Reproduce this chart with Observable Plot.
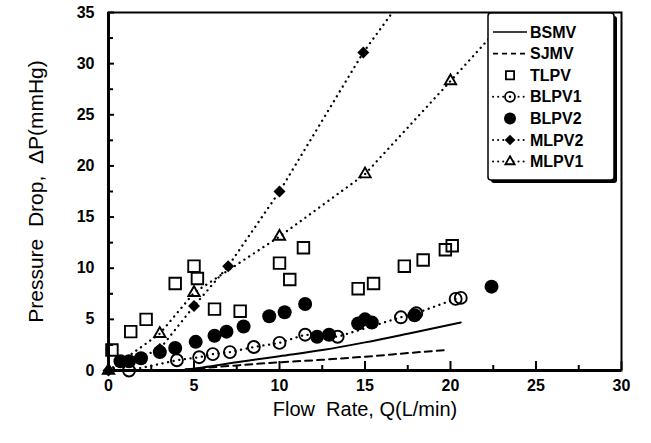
<!DOCTYPE html>
<html><head><meta charset="utf-8">
<script src="https://cdn.jsdelivr.net/npm/d3@7"></script>
<script src="https://cdn.jsdelivr.net/npm/@observablehq/plot@0.6"></script>
<style>
body{margin:0;background:#fff;}
#chart svg{font-family:"Liberation Sans",Arial,sans-serif;}
</style></head><body><div id="chart"></div>
<script>
// ---- axis ticks ----
const xTicks = [0, 5, 10, 15, 20, 25, 30];
const yTicks = [0, 5, 10, 15, 20, 25, 30, 35];
const xMinor = [2.5, 7.5, 12.5, 17.5, 22.5, 27.5];
const yMinor = [2.5, 7.5, 12.5, 17.5, 22.5, 27.5, 32.5];
const xTitle = "Flow\u00a0 Rate, Q(L/min)";
const yTitle = "Pressure\u00a0 Drop,\u00a0 \u0394P(mmHg)";
const seriesNames = ["BSMV", "SJMV", "TLPV", "BLPV1", "BLPV2", "MLPV2", "MLPV1"];

// ---- BSMV (solid curve) ----
const bsmvQ = [4.5, 5.5, 7.5, 10, 12.5, 15, 17.5, 20.6];
const bsmvP = [0.1, 0.3, 0.8, 1.4, 2.0, 2.75, 3.6, 4.7];
// ---- SJMV (dashed curve) ----
const sjmvQ = [4.5, 7.5, 10, 12.5, 15, 17.5, 19.7];
const sjmvP = [0.1, 0.5, 0.8, 1.05, 1.35, 1.7, 2.0];
// ---- TLPV (open squares) ----
const tlpvQ = [0.2, 1.3, 2.2, 3.9, 5.0, 5.2, 6.2, 7.7, 10.0, 10.6, 11.4, 14.6, 15.5, 17.3, 18.4, 19.7, 20.1];
const tlpvP = [2.0, 3.8, 5.0, 8.5, 10.2, 9.0, 6.0, 5.8, 10.5, 8.9, 12.0, 8.0, 8.5, 10.2, 10.8, 11.8, 12.2];
// ---- BLPV1 (open circles, dotted) ----
const blpv1Q = [1.2, 4.0, 5.3, 6.1, 7.1, 8.5, 10.0, 11.5, 13.4, 17.1, 18.0, 20.3, 20.6];
const blpv1P = [0.0, 1.0, 1.3, 1.6, 1.8, 2.3, 2.7, 3.5, 3.3, 5.2, 5.6, 7.0, 7.1];
// ---- BLPV2 (filled circles) ----
const blpv2Q = [0.7, 1.2, 1.9, 3.0, 3.9, 5.1, 6.2, 6.9, 7.9, 9.4, 10.3, 11.5, 12.2, 12.9, 14.6, 15.0, 15.4, 17.9, 22.4];
const blpv2P = [0.9, 0.9, 1.2, 1.8, 2.2, 2.8, 3.4, 3.8, 4.3, 5.3, 5.7, 6.5, 3.3, 3.5, 4.6, 5.0, 4.7, 5.4, 8.2];
// ---- MLPV2 (filled diamonds, dotted) ----
const mlpv2Q = [0, 3.0, 5.0, 7.0, 10.0, 14.9];
const mlpv2P = [0, 2.1, 6.3, 10.2, 17.5, 31.1];
const mlpv2LineQ = [0, 3.0, 5.0, 7.0, 10.0, 14.9, 20.0];
const mlpv2LineP = [0, 2.1, 6.3, 10.2, 17.5, 31.1, 42.8];
// ---- MLPV1 (open triangles, dotted) ----
const mlpv1Q = [0, 3.0, 5.0, 10.0, 15.0, 20.0];
const mlpv1P = [0, 3.6, 7.6, 13.1, 19.2, 28.3];
const mlpv1LineQ = [0, 3.0, 5.0, 10.0, 15.0, 20.0, 25.0];
const mlpv1LineP = [0, 3.6, 7.6, 13.1, 19.2, 28.3, 37.5];

const rows = (Q, P) => Q.map((q, i) => ({q, p: P[i]}));

const W = 651, H = 443, mL = 108, mR = 30, mT = 12, mB = 73;
const fw = W - mL - mR, fh = H - mT - mB;
const FONT = "'Liberation Sans', Arial, sans-serif";
const dotted = {strokeDasharray: "0.1,5.6", strokeLinecap: "round", strokeWidth: 2.3};

const plot = Plot.plot({
  width: W, height: H,
  marginLeft: mL, marginRight: mR, marginTop: mT, marginBottom: mB,
  x: {domain: [0, 30]},
  y: {domain: [0, 35]},
  style: {fontFamily: FONT, background: "white", color: "black", overflow: "visible"},
  marks: [
    Plot.frame({strokeWidth: 2}),
    Plot.line(rows(bsmvQ, bsmvP), {x: "q", y: "p", curve: "monotone-x", strokeWidth: 2}),
    Plot.line(rows(sjmvQ, sjmvP), {x: "q", y: "p", curve: "monotone-x", strokeWidth: 2, strokeDasharray: "7,5"}),
    Plot.line(rows(blpv1Q, blpv1P), {x: "q", y: "p", ...dotted}),
    Plot.line(rows(mlpv2LineQ, mlpv2LineP), {x: "q", y: "p", ...dotted, clip: true}),
    Plot.line(rows(mlpv1LineQ, mlpv1LineP), {x: "q", y: "p", ...dotted, clip: true}),
    Plot.dot(rows(tlpvQ, tlpvP), {x: "q", y: "p", symbol: "square", r: 6.5, fill: "none", stroke: "black", strokeWidth: 1.9}),
    Plot.dot(rows(blpv1Q, blpv1P), {x: "q", y: "p", symbol: "circle", r: 6, fill: "none", stroke: "black", strokeWidth: 1.9}),
    Plot.dot(rows(blpv2Q, blpv2P), {x: "q", y: "p", symbol: "circle", r: 7, fill: "black", stroke: "none"}),
    Plot.dot(rows(mlpv2Q, mlpv2P), {x: "q", y: "p", symbol: "diamond2", r: 5.4, fill: "black", stroke: "none"}),
    Plot.dot(rows(mlpv1Q, mlpv1P), {x: "q", y: "p", symbol: "triangle", r: 4.2, fill: "none", stroke: "black", strokeWidth: 1.9}),
    Plot.ruleX([0], {strokeWidth: 3}),
    Plot.ruleY([0], {strokeWidth: 3}),
    Plot.tickX(xTicks, {x: d => d, insetTop: fh - 9, strokeWidth: 2}),
    Plot.tickX(xMinor, {x: d => d, insetTop: fh - 5, strokeWidth: 2}),
    Plot.tickY(yTicks, {y: d => d, insetRight: fw - 6, strokeWidth: 2}),
    Plot.tickY(yMinor, {y: d => d, insetRight: fw - 5, strokeWidth: 2}),
    Plot.axisX({ticks: xTicks, tickSize: 0, tickPadding: 9, fontSize: 16, fontWeight: "bold", label: null}),
    Plot.axisY({ticks: yTicks, tickSize: 0, tickPadding: 14, fontSize: 16, fontWeight: "bold", label: null}),
    Plot.text([xTitle], {frameAnchor: "bottom", dy: 45, fontSize: 20}),
    Plot.text([yTitle], {frameAnchor: "left", textAnchor: "middle", rotate: -90, dx: -72, fontSize: 21})
  ]
});
document.getElementById("chart").appendChild(plot);

// ---- legend (drawn in the plot's SVG) ----
const svg = d3.select(plot);
const lg = svg.append("g").attr("font-family", FONT).attr("text-anchor", "start");
const lx = 488, ly = 13, lw = 126, lh = 167;
lg.append("rect").attr("x", lx + 3).attr("y", ly + 3).attr("width", lw).attr("height", lh).attr("rx", 3).attr("fill", "black");
lg.append("rect").attr("x", lx).attr("y", ly).attr("width", lw).attr("height", lh).attr("rx", 3)
  .attr("fill", "white").attr("stroke", "black").attr("stroke-width", 1.5);
const styles = [
  {line: "solid"}, {line: "dash"},
  {sym: d3.symbolSquare, r: 4.6, fill: "none"},
  {line: "dot", sym: d3.symbolCircle, r: 5, fill: "none", center: true},
  {sym: d3.symbolCircle, r: 6, fill: "black"},
  {line: "dot", sym: d3.symbolDiamond2, r: 4.8, fill: "black"},
  {line: "dot", sym: d3.symbolTriangle, r: 3.4, fill: "none"}
];
seriesNames.forEach((name, i) => {
  const cy = 32 + i * 21.6, x1 = 493, x2 = 527, cx = 510;
  const s = styles[i];
  if (s.line) {
    const ln = lg.append("line").attr("x1", x1).attr("x2", x2).attr("y1", cy).attr("y2", cy)
      .attr("stroke", "black").attr("stroke-width", s.line === "dot" ? 2 : 1.6);
    if (s.line === "dash") ln.attr("stroke-dasharray", "5,4");
    if (s.line === "dot") ln.attr("stroke-dasharray", "0.1,5").attr("stroke-linecap", "round");
  }
  if (s.sym) {
    lg.append("path").attr("d", d3.symbol(s.sym, Math.PI * s.r * s.r)())
      .attr("transform", `translate(${cx},${cy})`)
      .attr("fill", s.fill === "none" ? "white" : s.fill).attr("stroke", "black").attr("stroke-width", s.fill === "none" ? 1.8 : 0);
    if (s.center) lg.append("circle").attr("cx", cx).attr("cy", cy).attr("r", 1.2).attr("fill", "black");
  }
  lg.append("text").attr("x", 530).attr("y", cy).attr("dy", "0.35em").attr("text-anchor", "start")
    .attr("font-size", 16).attr("font-weight", "bold").text(name);
});
</script></body></html>
